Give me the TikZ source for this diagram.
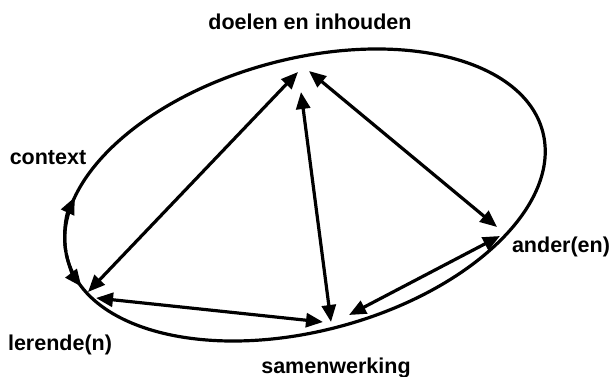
\documentclass[tikz,border=0pt]{standalone}
\usepackage{fontspec}
\setmainfont{Liberation Sans}
\usetikzlibrary{arrows.meta}
\begin{document}
\begin{tikzpicture}[x=1pt,y=-1pt,
  lbl/.style={font=\fontsize{21.5}{24}\selectfont\bfseries, inner sep=0pt, anchor=base},
  head/.tip={Triangle[length=17pt,width=14pt]},
  con/.style={line width=3.2pt, head-head},
  ring/.style={line width=3.2pt}]
\useasboundingbox (0,0) rectangle (611,377);
% labels
\node[lbl] (doelen) at (310,30) {doelen en inhouden};
\node[lbl] (context) at (48,165) {context};
\node[lbl] (lerende) at (60,350) {lerende(n)};
\node[lbl] (ander) at (561,252) {ander(en)};
\node[lbl] (samen) at (336,373) {samenwerking};
% ellipse
\draw[ring, rotate around={15:(305,195)}] (305,195) ellipse [x radius=246, y radius=136];
\begin{scope}[shift={(305,195)}, rotate=15]
  \draw[ring,-head] (183:246 and 136) arc[start angle=183, end angle=205, x radius=246, y radius=136];
  \draw[ring,-head] (182:246 and 136) arc[start angle=182, end angle=167, x radius=246, y radius=136];
\end{scope}
% arrow end points
\coordinate (dL) at (298,72);
\coordinate (dS) at (301,92);
\coordinate (dA) at (309,71);
\coordinate (lD) at (88,292);
\coordinate (lS) at (96,298);
\coordinate (sL) at (323,322);
\coordinate (sD) at (331,322);
\coordinate (sA) at (349,315);
\coordinate (aD) at (497,227);
\coordinate (aS) at (500,236);
% connectors
\draw[con] (lD) -- (dL);
\draw[con] (sD) -- (dS);
\draw[con] (aD) -- (dA);
\draw[con] (lS) -- (sL);
\draw[con] (sA) -- (aS);
\end{tikzpicture}
\end{document}
